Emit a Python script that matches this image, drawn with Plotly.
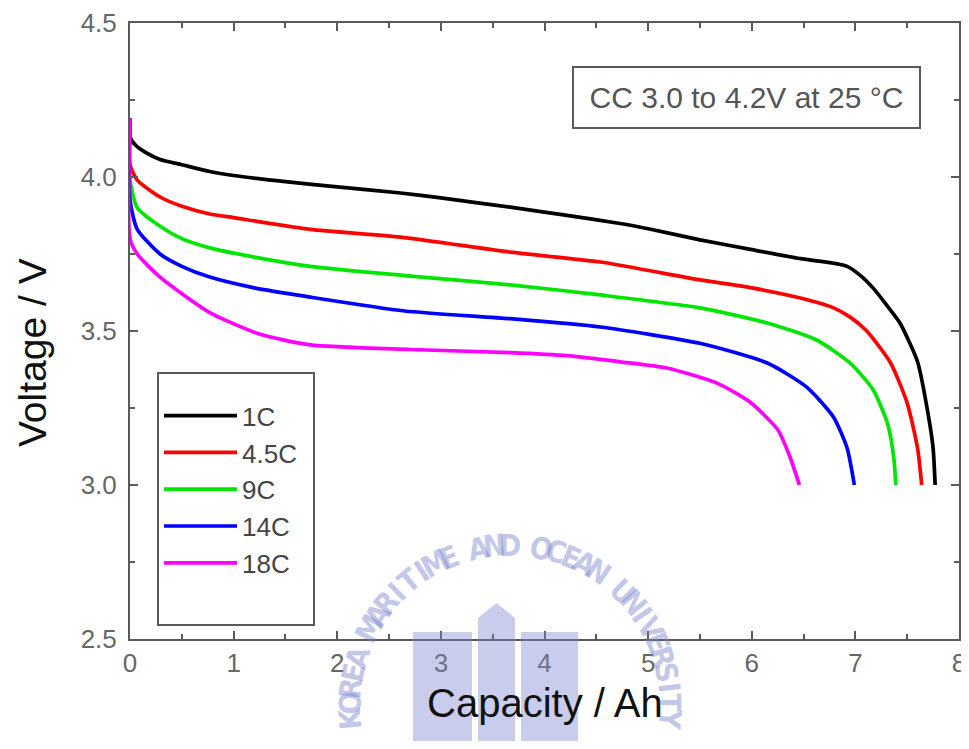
import math
import plotly.graph_objects as go

# ---------------- data ----------------
series_names = ["1C", "4.5C", "9C", "14C", "18C"]
series_colors = ["#000000", "#ff0000", "#00e600", "#0000ff", "#ff00ff"]

cap_1c = [0, 0, 0.05, 0.15, 0.29, 0.5, 0.77, 1.0, 1.5, 2.0, 2.61, 3.0, 3.67, 4.2, 4.73, 5.0, 5.5, 6.0, 6.47, 6.79, 6.92, 7.05, 7.17, 7.3, 7.43, 7.6, 7.7, 7.75, 7.77]
v_1c = [4.19, 4.13, 4.105, 4.08, 4.057, 4.04, 4.018, 4.005, 3.985, 3.968, 3.948, 3.932, 3.902, 3.876, 3.849, 3.832, 3.796, 3.764, 3.735, 3.72, 3.71, 3.68, 3.64, 3.585, 3.526, 3.40, 3.234, 3.12, 3.0]

cap_45c = [0, 0, 0.07, 0.29, 0.5, 0.77, 1.0, 1.74, 2.61, 3.67, 4.54, 5.5, 6.0, 6.47, 6.79, 6.95, 7.11, 7.34, 7.5, 7.6, 7.64]
v_45c = [4.19, 4.04, 3.99, 3.935, 3.905, 3.88, 3.868, 3.83, 3.805, 3.756, 3.724, 3.666, 3.64, 3.607, 3.575, 3.545, 3.50, 3.396, 3.266, 3.12, 3.0]

cap_9c = [0, 0, 0.07, 0.29, 0.5, 0.77, 1.2, 1.74, 2.65, 3.67, 4.54, 5.5, 6.15, 6.63, 6.95, 7.17, 7.31, 7.37, 7.39]
v_9c = [4.19, 3.99, 3.90, 3.84, 3.80, 3.77, 3.74, 3.71, 3.68, 3.65, 3.617, 3.575, 3.526, 3.47, 3.396, 3.31, 3.20, 3.09, 3.0]

cap_14c = [0, 0, 0.07, 0.29, 0.5, 0.77, 1.2, 1.74, 2.65, 3.67, 4.54, 5.5, 6.15, 6.53, 6.79, 6.92, 6.99]
v_14c = [4.19, 3.925, 3.83, 3.75, 3.71, 3.675, 3.64, 3.61, 3.565, 3.54, 3.513, 3.46, 3.396, 3.318, 3.22, 3.12, 3.0]

cap_18c = [0, 0, 0.07, 0.29, 0.77, 1.25, 1.74, 2.7, 3.67, 4.22, 4.73, 5.18, 5.67, 5.98, 6.25, 6.37, 6.46]
v_18c = [4.19, 3.80, 3.75, 3.675, 3.56, 3.49, 3.455, 3.44, 3.43, 3.42, 3.40, 3.38, 3.33, 3.27, 3.18, 3.09, 3.0]

x_tick_vals = [0, 1, 2, 3, 4, 5, 6, 7, 8]
y_tick_vals = [2.5, 3.0, 3.5, 4.0, 4.5]
y_tick_text = ["2.5", "3.0", "3.5", "4.0", "4.5"]

x_title = "Capacity / Ah"
y_title = "Voltage / V"
note_text = "CC 3.0 to 4.2V at 25 °C"
watermark_text = "KOREA MARITIME AND OCEAN UNIVERSITY"

caps = [cap_1c, cap_45c, cap_9c, cap_14c, cap_18c]
volts = [v_1c, v_45c, v_9c, v_14c, v_18c]

# ---------------- layout geometry ----------------
# the page body has an 8 px margin, so the figure starts at (8, 8) in the window
OFF = 8
W, H = 969 - OFF, 749 - 2 * OFF
PLOT_L, PLOT_R, PLOT_T, PLOT_B = 130, 959, 23, 639   # window pixels of the plot frame
L = PLOT_L - OFF
R = (OFF + W) - PLOT_R
T = PLOT_T - OFF
B = (OFF + H) - PLOT_B
PW, PH = PLOT_R - PLOT_L, PLOT_B - PLOT_T

def px(x):
    return (x - PLOT_L) / PW

def py(y):
    return (PLOT_B - y) / PH

FONT = "Liberation Sans, Arial, sans-serif"
AX_COL = "#5a5a5a"
TICK_COL = "#666666"

fig = go.Figure()
for name, col, xs, ys in zip(series_names, series_colors, caps, volts):
    fig.add_trace(go.Scatter(
        x=xs, y=ys, name=name, mode="lines",
        line=dict(color=col, width=3.7, shape="spline", smoothing=0.6),
    ))
# blank legend row: leaves empty space at the bottom and widens the legend box
fig.add_trace(go.Scatter(x=[None], y=[None], name="\u00a0" * 9, mode="lines",
                         line=dict(color="rgba(0,0,0,0)", width=0), hoverinfo="skip"))

axis_common = dict(
    showline=True, linecolor=AX_COL, linewidth=2, mirror="ticks",
    ticks="inside", tickcolor=AX_COL, tickwidth=1.5, ticklen=8,
    showgrid=False, zeroline=False, automargin=False,
    tickfont=dict(family=FONT, size=26, color=TICK_COL),
)

fig.update_xaxes(
    range=[0, 8], tickvals=x_tick_vals, ticklabelstandoff=0,
    minor=dict(dtick=0.5, ticks="inside", ticklen=5, tickcolor=AX_COL, tickwidth=1.5),
    **axis_common,
)
fig.update_yaxes(
    range=[2.5, 4.5], tickvals=y_tick_vals, ticktext=y_tick_text, ticklabelstandoff=6,
    minor=dict(dtick=0.25, ticks="inside", ticklen=5, tickcolor=AX_COL, tickwidth=1.5),
    **axis_common,
)

annotations = [
    dict(text=x_title, x=px(545), y=py(703), xref="paper", yref="paper",
         showarrow=False, font=dict(family=FONT, size=40, color="#111111"),
         xanchor="center", yanchor="middle"),
    dict(text=y_title, x=px(32), y=py(353), xref="paper", yref="paper",
         showarrow=False, textangle=-90, font=dict(family=FONT, size=39, color="#111111"),
         xanchor="center", yanchor="middle"),
    dict(text=note_text, x=px(746.5), y=py(97.5), xref="paper", yref="paper",
         showarrow=False, font=dict(family=FONT, size=30, color="#555555"),
         xanchor="center", yanchor="middle", bordercolor=AX_COL, borderwidth=2,
         borderpad=11, bgcolor="white", width=323, height=37),
]

# faint watermark text along an arc
cx, cy, rad = 510, 705, 160
n = len(watermark_text)
a0, a1 = 185.0, -5.0
for i, ch in enumerate(watermark_text):
    if ch == " ":
        continue
    th = a0 + (a1 - a0) * i / (n - 1)
    t = math.radians(th)
    xx = cx + rad * math.cos(t)
    yy = cy - rad * math.sin(t)
    annotations.append(dict(
        text="<b>" + ch + "</b>", x=px(xx), y=py(yy), xref="paper", yref="paper",
        showarrow=False, textangle=90 - th,
        font=dict(family="DejaVu Sans Condensed, Liberation Sans Narrow, sans-serif", size=30,
                  color="rgba(120,130,205,0.45)"),
        xanchor="center", yanchor="middle",
    ))

wm = "rgba(120,130,205,0.4)"
shapes = [
    dict(type="rect", xref="paper", yref="paper", x0=px(413), x1=px(472), y0=py(749), y1=py(632),
         fillcolor=wm, line=dict(width=0), layer="above"),
    dict(type="rect", xref="paper", yref="paper", x0=px(521), x1=px(578), y0=py(749), y1=py(632),
         fillcolor=wm, line=dict(width=0), layer="above"),
    dict(type="path", xref="paper", yref="paper",
         path="M {a},{b} L {a},{c} L {m},{d} L {e},{c} L {e},{b} Z".format(
             a=px(478), e=px(515), m=px(496.5), b=py(749), c=py(618), d=py(603)),
         fillcolor=wm, line=dict(width=0), layer="above"),
]

fig.update_layout(
    width=W, height=H,
    margin=dict(l=L, r=R, t=T, b=B, autoexpand=False),
    paper_bgcolor="white", plot_bgcolor="white",
    showlegend=True,
    legend=dict(
        x=px(157), y=py(372), xanchor="left", yanchor="top",
        bgcolor="white", bordercolor=AX_COL, borderwidth=2,
        font=dict(family=FONT, size=26, color="#444444"),
        tracegroupgap=0, itemwidth=73,
        title=dict(text=" ", font=dict(size=14)),
    ),
    annotations=annotations,
    shapes=shapes,
    font=dict(family=FONT),
)

fig.write_html("out.html")
